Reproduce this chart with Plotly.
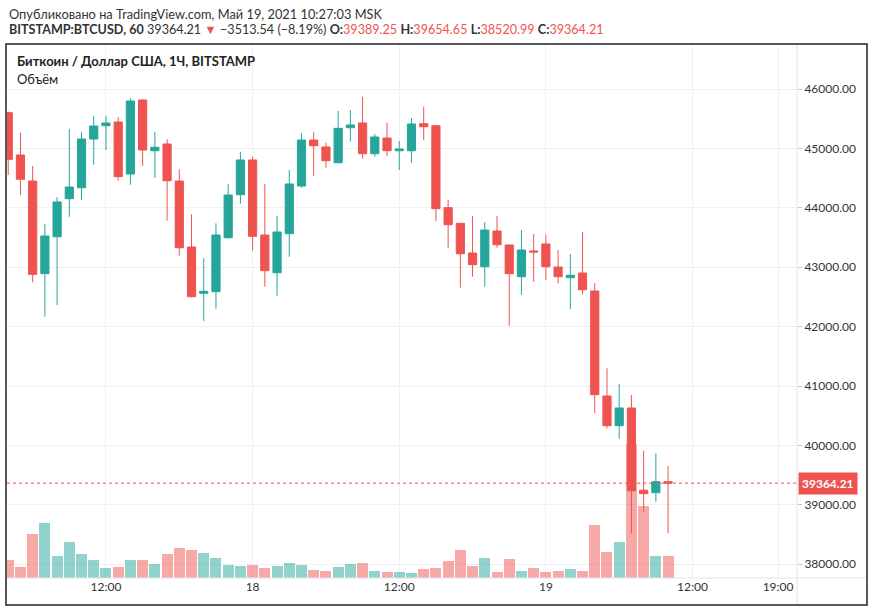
import plotly.graph_objects as go
import pandas as pd

# ---------------- data ----------------
start_time = "2021-05-17 04:00"
opens = [45601, 44889, 44451, 42891, 43513, 44153, 44338, 45158, 45382, 45444,
         44569, 45815, 44961, 45074, 44451, 43340, 42561, 42588, 43497, 44221,
         44805, 43542, 42907, 43564, 44367, 45141, 45024, 44759, 45348, 45428,
         44911, 45175, 44961, 44961, 45416, 45382, 44002, 43739, 43239, 43008,
         43609, 43374, 42840, 43273, 43391, 43003, 42823, 42902, 42599, 40832,
         40332, 40630, 39246, 39204, 39389.25]
highs = [45620, 45264, 44704, 43727, 44177, 45327, 45281, 45545, 45545, 45524,
         45843, 45827, 45281, 45153, 44648, 43891, 43150, 43739, 44401, 44944,
         44860, 44401, 43862, 44636, 45254, 45276, 45096, 45630, 45646, 45870,
         45242, 45433, 45125, 45512, 45702, 45399, 44131, 43745, 43862, 43756,
         43862, 43380, 43626, 43559, 43547, 43290, 43222, 43593, 42729, 41298,
         41034, 40848, 39911, 39867, 39654.65]
lows = [44552, 44215, 42746, 42167, 42364, 43850, 44131, 44726, 44973, 44456,
        44389, 44704, 44507, 43783, 43194, 42493, 42094, 42301, 43480, 44069,
        43278, 42672, 42520, 43177, 44338, 44540, 44675, 44749, 45113, 44827,
        44860, 44867, 44636, 44759, 45141, 43778, 43328, 42655, 42840, 42672,
        43328, 42015, 42537, 42756, 42785, 42729, 42291, 42544, 40540, 40281,
        40113, 38520, 38884, 39052, 38520.99]
closes = [44817, 44480, 42880, 43525, 44098, 44350, 45158, 45377, 45428, 44524,
          45798, 44973, 45019, 44456, 43328, 42503, 42594, 43542, 44215, 44805,
          43520, 42941, 43593, 44401, 45141, 45045, 44793, 45338, 45394, 44911,
          45192, 44961, 44990, 45411, 45365, 43985, 43715, 43227, 43042, 43626,
          43379, 42891, 43290, 43256, 43008, 42840, 42864, 42621, 40854, 40332,
          40630, 39237, 39187, 39389.25, 39364.21]
volumes = [366, 226, 886, 1106, 446, 726, 486, 366, 206, 226,
           366, 366, 286, 486, 606, 566, 506, 406, 266, 246,
           266, 206, 246, 306, 266, 166, 146, 226, 286, 306,
           146, 126, 126, 106, 186, 206, 346, 566, 246, 406,
           126, 386, 146, 206, 126, 146, 186, 146, 1066, 526,
           726, 2680, 1440, 446, 446]

price_ticks = [38000, 39000, 40000, 41000, 42000, 43000, 44000, 45000, 46000]
time_tick_vals = ["2021-05-17 12:00", "2021-05-18 00:00", "2021-05-18 12:00",
                  "2021-05-19 00:00", "2021-05-19 12:00", "2021-05-19 19:00"]
time_tick_text = ["12:00", "18", "12:00", "19", "12:00", "19:00"]

header_line1 = "Опубликовано на TradingView.com, Май 19, 2021 10:27:03 MSK"
symbol_text = "BITSTAMP:BTCUSD, 60"
change_text = "−3513.54 (−8.19%)"
title_text = "Биткоин / Доллар США, 1Ч, BITSTAMP"
volume_label = "Объём"

# ---------------- figure ----------------
UP = "#26a69a"
DOWN = "#ef5350"
times = pd.date_range(start_time, periods=len(opens), freq="h")
vol_colors = ["rgba(38,166,154,0.5)" if c >= o else "rgba(239,83,80,0.5)"
              for o, c in zip(opens, closes)]

W, H = 874, 612
PL, PR, PT, PB = 7, 797, 44, 578  # plot area pixels

def px(x):
    return x / W

def py(y):
    return 1 - y / H

FONT = "Lato"

fig = go.Figure()
fig.add_trace(go.Bar(
    x=times, y=volumes, marker=dict(color=vol_colors, line=dict(width=0)),
    width=3600 * 1000 * 0.9, yaxis="y", hoverinfo="skip", showlegend=False))
fig.add_trace(go.Candlestick(
    x=times, open=opens, high=highs, low=lows, close=closes, yaxis="y2",
    increasing=dict(line=dict(color=UP, width=1), fillcolor=UP),
    decreasing=dict(line=dict(color=DOWN, width=1), fillcolor=DOWN),
    whiskerwidth=0, showlegend=False))

last_close = closes[-1]
y_top = 46000 + (89 - PT) / 0.0594
y_bot = 46000 - (PB - 89) / 0.0594

fig.update_layout(
    width=W, height=H, margin=dict(l=0, r=0, t=0, b=0),
    paper_bgcolor="white", plot_bgcolor="white",
    font=dict(family=FONT, size=12, color="#333"),
    bargap=0, boxgap=0.33, boxgroupgap=0,
    xaxis=dict(
        domain=[px(PL), px(PR)], type="date",
        range=["2021-05-17 03:54", "2021-05-19 20:33"],
        tickvals=time_tick_vals, ticktext=time_tick_text,
        showgrid=True, gridcolor="#f0f0f0", gridwidth=1,
        zeroline=False, showline=False, ticks="",
        tickfont=dict(size=12, color="#333", family=FONT),
        rangeslider=dict(visible=False), fixedrange=True),
    yaxis=dict(
        domain=[py(PB), py(PT)], range=[0, (PB - PT) * 20],
        visible=False, showgrid=False, fixedrange=True),
    yaxis2=dict(
        domain=[py(PB), py(PT)], overlaying="y", side="right", anchor="x",
        range=[y_bot, y_top], tickvals=price_ticks, tickformat=".2f",
        showgrid=True, gridcolor="#f0f0f0", gridwidth=1,
        ticks="outside", ticklen=4, tickcolor="#c8c8c8",
        tickfont=dict(size=12, color="#333", family=FONT),
        zeroline=False, showline=False, fixedrange=True),
    hovermode=False,
)

shapes = [
    # price axis separator
    dict(type="line", xref="paper", yref="paper", x0=px(PR), x1=px(PR),
         y0=py(605), y1=py(PT), line=dict(color="#e0e3eb", width=1)),
    # time axis separator
    dict(type="line", xref="paper", yref="paper", x0=px(6), x1=px(867),
         y0=py(PB), y1=py(PB), line=dict(color="#e0e3eb", width=1)),
    # current price line
    dict(type="line", xref="paper", yref="y2", x0=px(PL), x1=px(PR),
         y0=last_close, y1=last_close, line=dict(color=DOWN, width=1, dash="dot")),
    # frame
    dict(type="rect", xref="paper", yref="paper", x0=px(6), x1=px(867),
         y0=py(605), y1=py(PT), line=dict(color="#222", width=1.5)),
]
fig.update_layout(shapes=shapes)

red_span = "<span style='color:#ef5350'>{}</span>"
line2 = ("<b>{}</b> {:.2f} <span style='color:#ef5350'>▼</span> {} "
         "<b>O:</b>{} <b>H:</b>{} <b>L:</b>{} <b>C:</b>{}").format(
    symbol_text, last_close, change_text,
    red_span.format(f"{opens[-1]:.2f}"), red_span.format(f"{highs[-1]:.2f}"),
    red_span.format(f"{lows[-1]:.2f}"), red_span.format(f"{closes[-1]:.2f}"))

annotations = [
    dict(text=header_line1, xref="paper", yref="paper", x=px(7), y=py(14),
         xanchor="left", yanchor="middle", showarrow=False,
         font=dict(size=12.8, color="#333", family=FONT)),
    dict(text=line2, xref="paper", yref="paper", x=px(7), y=py(29.5),
         xanchor="left", yanchor="middle", showarrow=False,
         font=dict(size=12.6, color="#333", family=FONT)),
    dict(text="<b>" + title_text + "</b>", xref="paper", yref="paper",
         x=px(15), y=py(61.5), xanchor="left", yanchor="middle", showarrow=False,
         font=dict(size=13, color="#222", family=FONT)),
    dict(text=volume_label, xref="paper", yref="paper",
         x=px(15), y=py(78.5), xanchor="left", yanchor="middle", showarrow=False,
         font=dict(size=13, color="#222", family=FONT)),
    dict(text="<b>{:.2f}</b>".format(last_close), xref="paper", yref="y2",
         x=px(798), y=last_close, xanchor="left", yanchor="middle",
         showarrow=False, bgcolor=DOWN, borderpad=3,
         font=dict(size=12, color="white", family=FONT)),
]
fig.update_layout(annotations=annotations)

fig.write_html("out.html",
               config={"displayModeBar": False},
               post_script="document.body.style.margin='0';"
                           "document.body.style.overflow='hidden';")
